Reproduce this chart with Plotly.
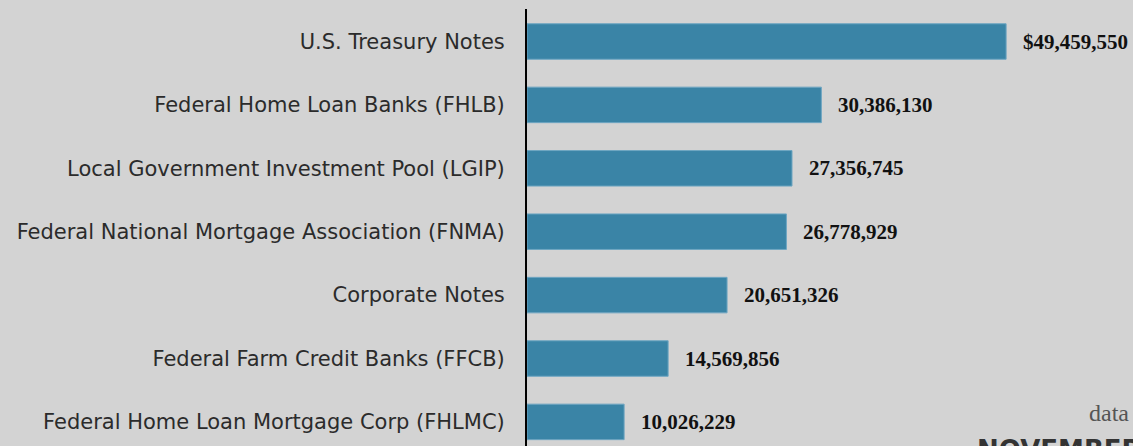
import plotly.graph_objects as go

categories = [
    "U.S. Treasury Notes",
    "Federal Home Loan Banks (FHLB)",
    "Local Government Investment Pool (LGIP)",
    "Federal National Mortgage Association (FNMA)",
    "Corporate Notes",
    "Federal Farm Credit Banks (FFCB)",
    "Federal Home Loan Mortgage Corp (FHLMC)",
]
values = [49459550, 30386130, 27356745, 26778929, 20651326, 14569856, 10026229]
value_labels = [("$" if i == 0 else "") + f"{v:,}" for i, v in enumerate(values)]

W, H = 1133, 446
L, T = 527, 9
px_per_unit = 9.687e-6
xmax = (W - L) / px_per_unit
cat_px = 63.4
c0 = 41.5
y_top = -(c0 - T) / cat_px
y_bot = (H - c0) / cat_px

fig = go.Figure()
fig.add_trace(go.Bar(
    x=values, y=categories, orientation="h",
    marker=dict(color="#3a84a6", line=dict(color="#6ea6c2", width=1)),
    width=0.56, hoverinfo="skip",
))

for c, v, t in zip(categories, values, value_labels):
    fig.add_annotation(
        x=v, y=c, text=f"<b>{t}</b>", showarrow=False,
        xanchor="left", yanchor="middle", xshift=15,
        font=dict(family="Liberation Serif", size=21, color="#111111"),
    )

def px_x(p):
    return (p - L) / (W - L)

def px_y(p):
    return (H - p) / (H - T)

fig.add_annotation(
    x=px_x(1131), y=px_y(428), xref="paper", yref="paper",
    text="data", showarrow=False, xanchor="right", yanchor="bottom",
    font=dict(family="Liberation Serif", size=24, color="#555555"),
)
fig.add_annotation(
    x=px_x(975), y=px_y(433), xref="paper", yref="paper",
    text="<b>NOVEMBER</b>", showarrow=False, xanchor="left", yanchor="top",
    font=dict(family="DejaVu Sans", size=26, color="#333333"),
)

fig.update_layout(
    width=W, height=H,
    margin=dict(l=L, r=0, t=T, b=0, pad=0),
    paper_bgcolor="#d3d3d3", plot_bgcolor="#d3d3d3",
    showlegend=False,
)
fig.update_xaxes(range=[0, xmax], visible=False, showgrid=False, zeroline=False)
fig.update_yaxes(
    range=[y_bot, y_top], showgrid=False, zeroline=False,
    showline=True, linecolor="#000000", linewidth=2,
    ticks="", ticklabelstandoff=16,
    tickfont=dict(family="DejaVu Sans", size=21, color="#2b2b2b"),
)

fig.write_html(
    "out.html",
    config={"displayModeBar": False},
    post_script="document.body.style.margin='0';document.body.style.background='#d3d3d3';",
)
